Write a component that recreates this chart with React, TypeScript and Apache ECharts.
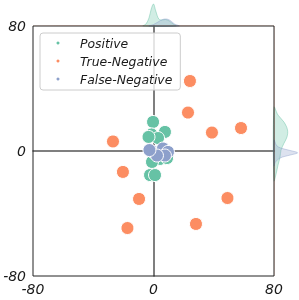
import React, { useEffect, useRef } from "react";
import * as echarts from "echarts";

// Class names
const categories = ["Positive", "True-Negative", "False-Negative"];
const colors = ["#66c2a5", "#fc8d62", "#8da0cb"];

// Scatter points (x, y)
const positiveX = [-0.3, -1.3, 7.6, 3.0, -3.3, 4.3, -1.0, -2.3, 1.0, 9.0];
const positiveY = [18.6, 10.6, 12.2, 8.3, 9.0, -5.1, -7.0, -15.4, -15.4, -4.5];
const trueNegX = [24.2, 22.9, 38.8, 58.1, -26.9, -20.3, -9.6, -17.3, 49.1, 28.2];
const trueNegY = [44.8, 24.6, 11.8, 14.7, 6.1, -13.4, -30.7, -49.3, -30.1, -46.7];
const falseNegX = [-0.3, 6.3, 9.6, 7.6, 2.3, -2.7];
const falseNegY = [-0.6, 1.6, -0.6, -2.9, -2.9, 0.6];

// Marginal density curves (position, height)
const posTopX = [-7, -5, -3, -1.5, 0, 1.5, 3.5, 5.5, 8, 10.5, 13, 15];
const posTopH = [0, 2, 8, 17, 22, 15, 7, 6, 6.5, 5, 2, 0];
const fnTopX = [-3, 0, 3, 6, 8, 10, 12, 14, 17];
const fnTopH = [0, 1.5, 4, 6.5, 7, 6.5, 4.5, 2, 0];
const tnTopX = [-80, -80, -40, 0, 40, 80, 80];
const tnTopH = [0, 0.6, 0.9, 1, 1, 0.6, 0];

const posRightY = [28, 23, 18.5, 13.5, 9, 5, 0.5, -4, -9, -13.5, -19];
const posRightW = [0, 4, 10, 13.5, 13, 10, 7, 6, 4, 2.5, 0];
const fnRightY = [7, 3.2, 1.3, -0.6, -1.3, -2.6, -4.5, -7, -9.6];
const fnRightW = [0, 3, 10, 22, 23.5, 16, 6, 1.5, 0];
const tnRightY = [80, 80, 40, 0, -40, -80, -80];
const tnRightW = [0, 0.6, 0.9, 1, 1, 0.6, 0];

// Axis ticks
const axisMin = -80;
const axisMax = 80;
const axisInterval = 80;

const FONT = "DejaVu Sans";

function zip(a: number[], b: number[]) {
  return a.map((v, i) => [v, b[i]]);
}

function hexA(hex: string, a: number) {
  const r = parseInt(hex.slice(1, 3), 16);
  const g = parseInt(hex.slice(3, 5), 16);
  const b = parseInt(hex.slice(5, 7), 16);
  return `rgba(${r},${g},${b},${a})`;
}

function kdeSeries(idx: number, pts: number[][], color: string, strokeA: number) {
  return {
    type: "custom",
    xAxisIndex: idx,
    yAxisIndex: idx,
    silent: true,
    clip: false,
    z: 1,
    data: pts,
    renderItem: (params: any, api: any) => {
      if (params.dataIndex !== 0) return null;
      const points = pts.map((p) => api.coord(p));
      return {
        type: "polygon",
        shape: { points, smooth: 0.35 },
        style: {
          fill: hexA(color, 0.3),
          stroke: strokeA > 0 ? hexA(color, strokeA) : "none",
          lineWidth: 1,
        },
      };
    },
  };
}

export default function App() {
  const ref = useRef<HTMLDivElement>(null);

  useEffect(() => {
    if (!ref.current) return;
    const chart = echarts.init(ref.current, null, { renderer: "svg" });
    const tickLabel = {
      fontFamily: FONT,
      fontStyle: "italic",
      fontSize: 14,
      color: "#1a1a1a",
    };
    const scatterData = [
      zip(positiveX, positiveY),
      zip(trueNegX, trueNegY),
      zip(falseNegX, falseNegY),
    ];
    const option: any = {
      animation: false,
      grid: [
        {
          left: 33,
          top: 26,
          width: 241,
          height: 250,
          show: true,
          borderColor: "#222",
          borderWidth: 1,
          backgroundColor: "transparent",
          z: 3,
        },
        { left: 33, top: 0, width: 241, height: 26 },
        { left: 274, top: 26, width: 25, height: 250 },
      ],
      xAxis: [
        {
          gridIndex: 0,
          type: "value",
          min: axisMin,
          max: axisMax,
          interval: axisInterval,
          axisLine: { show: true, lineStyle: { color: "#555", width: 1.5 } },
          axisTick: { show: false },
          splitLine: { show: false },
          axisLabel: { ...tickLabel, margin: 6 },
        },
        { gridIndex: 1, type: "value", min: axisMin, max: axisMax, show: false },
        { gridIndex: 2, type: "value", min: 0, max: 25, show: false },
      ],
      yAxis: [
        {
          gridIndex: 0,
          type: "value",
          min: axisMin,
          max: axisMax,
          interval: axisInterval,
          axisLine: { show: true, lineStyle: { color: "#555", width: 1.5 } },
          axisTick: { show: false },
          splitLine: { show: false },
          axisLabel: { ...tickLabel, margin: 7 },
        },
        { gridIndex: 1, type: "value", min: 0, max: 26, show: false },
        { gridIndex: 2, type: "value", min: axisMin, max: axisMax, show: false },
      ],
      legend: {
        data: categories,
        orient: "vertical",
        left: 40,
        top: 33,
        icon: "circle",
        itemWidth: 5,
        itemHeight: 5,
        itemGap: 4,
        padding: [3, 8, 4, 14.5],
        backgroundColor: "rgba(255,255,255,0.8)",
        borderColor: "#cccccc",
        borderWidth: 1,
        borderRadius: 3,
        textStyle: {
          fontFamily: FONT,
          fontStyle: "italic",
          fontSize: 12.4,
          lineHeight: 14,
          color: "#1a1a1a",
          padding: [0, 0, 0, 14.5],
        },
      },
      series: [
        kdeSeries(1, zip(posTopX, posTopH), colors[0], 0.45),
        kdeSeries(1, zip(tnTopX, tnTopH), colors[1], 0),
        kdeSeries(1, zip(fnTopX, fnTopH), colors[2], 0.45),
        kdeSeries(2, zip(posRightW, posRightY), colors[0], 0.45),
        kdeSeries(2, zip(tnRightW, tnRightY), colors[1], 0),
        kdeSeries(2, zip(fnRightW, fnRightY), colors[2], 0.45),
        ...categories.map((name, i) => ({
          name,
          type: "scatter",
          xAxisIndex: 0,
          yAxisIndex: 0,
          data: scatterData[i],
          symbol: "circle",
          symbolSize: 13,
          z: 2,
          itemStyle: {
            color: colors[i],
            opacity: 1,
            borderColor: "#ffffff",
            borderWidth: 1,
          },
        })),
      ],
    };
    chart.setOption(option);
    return () => chart.dispose();
  }, []);

  return (
    <div
      ref={ref}
      style={{ position: "fixed", left: 0, top: 0, width: 299, height: 300 }}
    />
  );
}
